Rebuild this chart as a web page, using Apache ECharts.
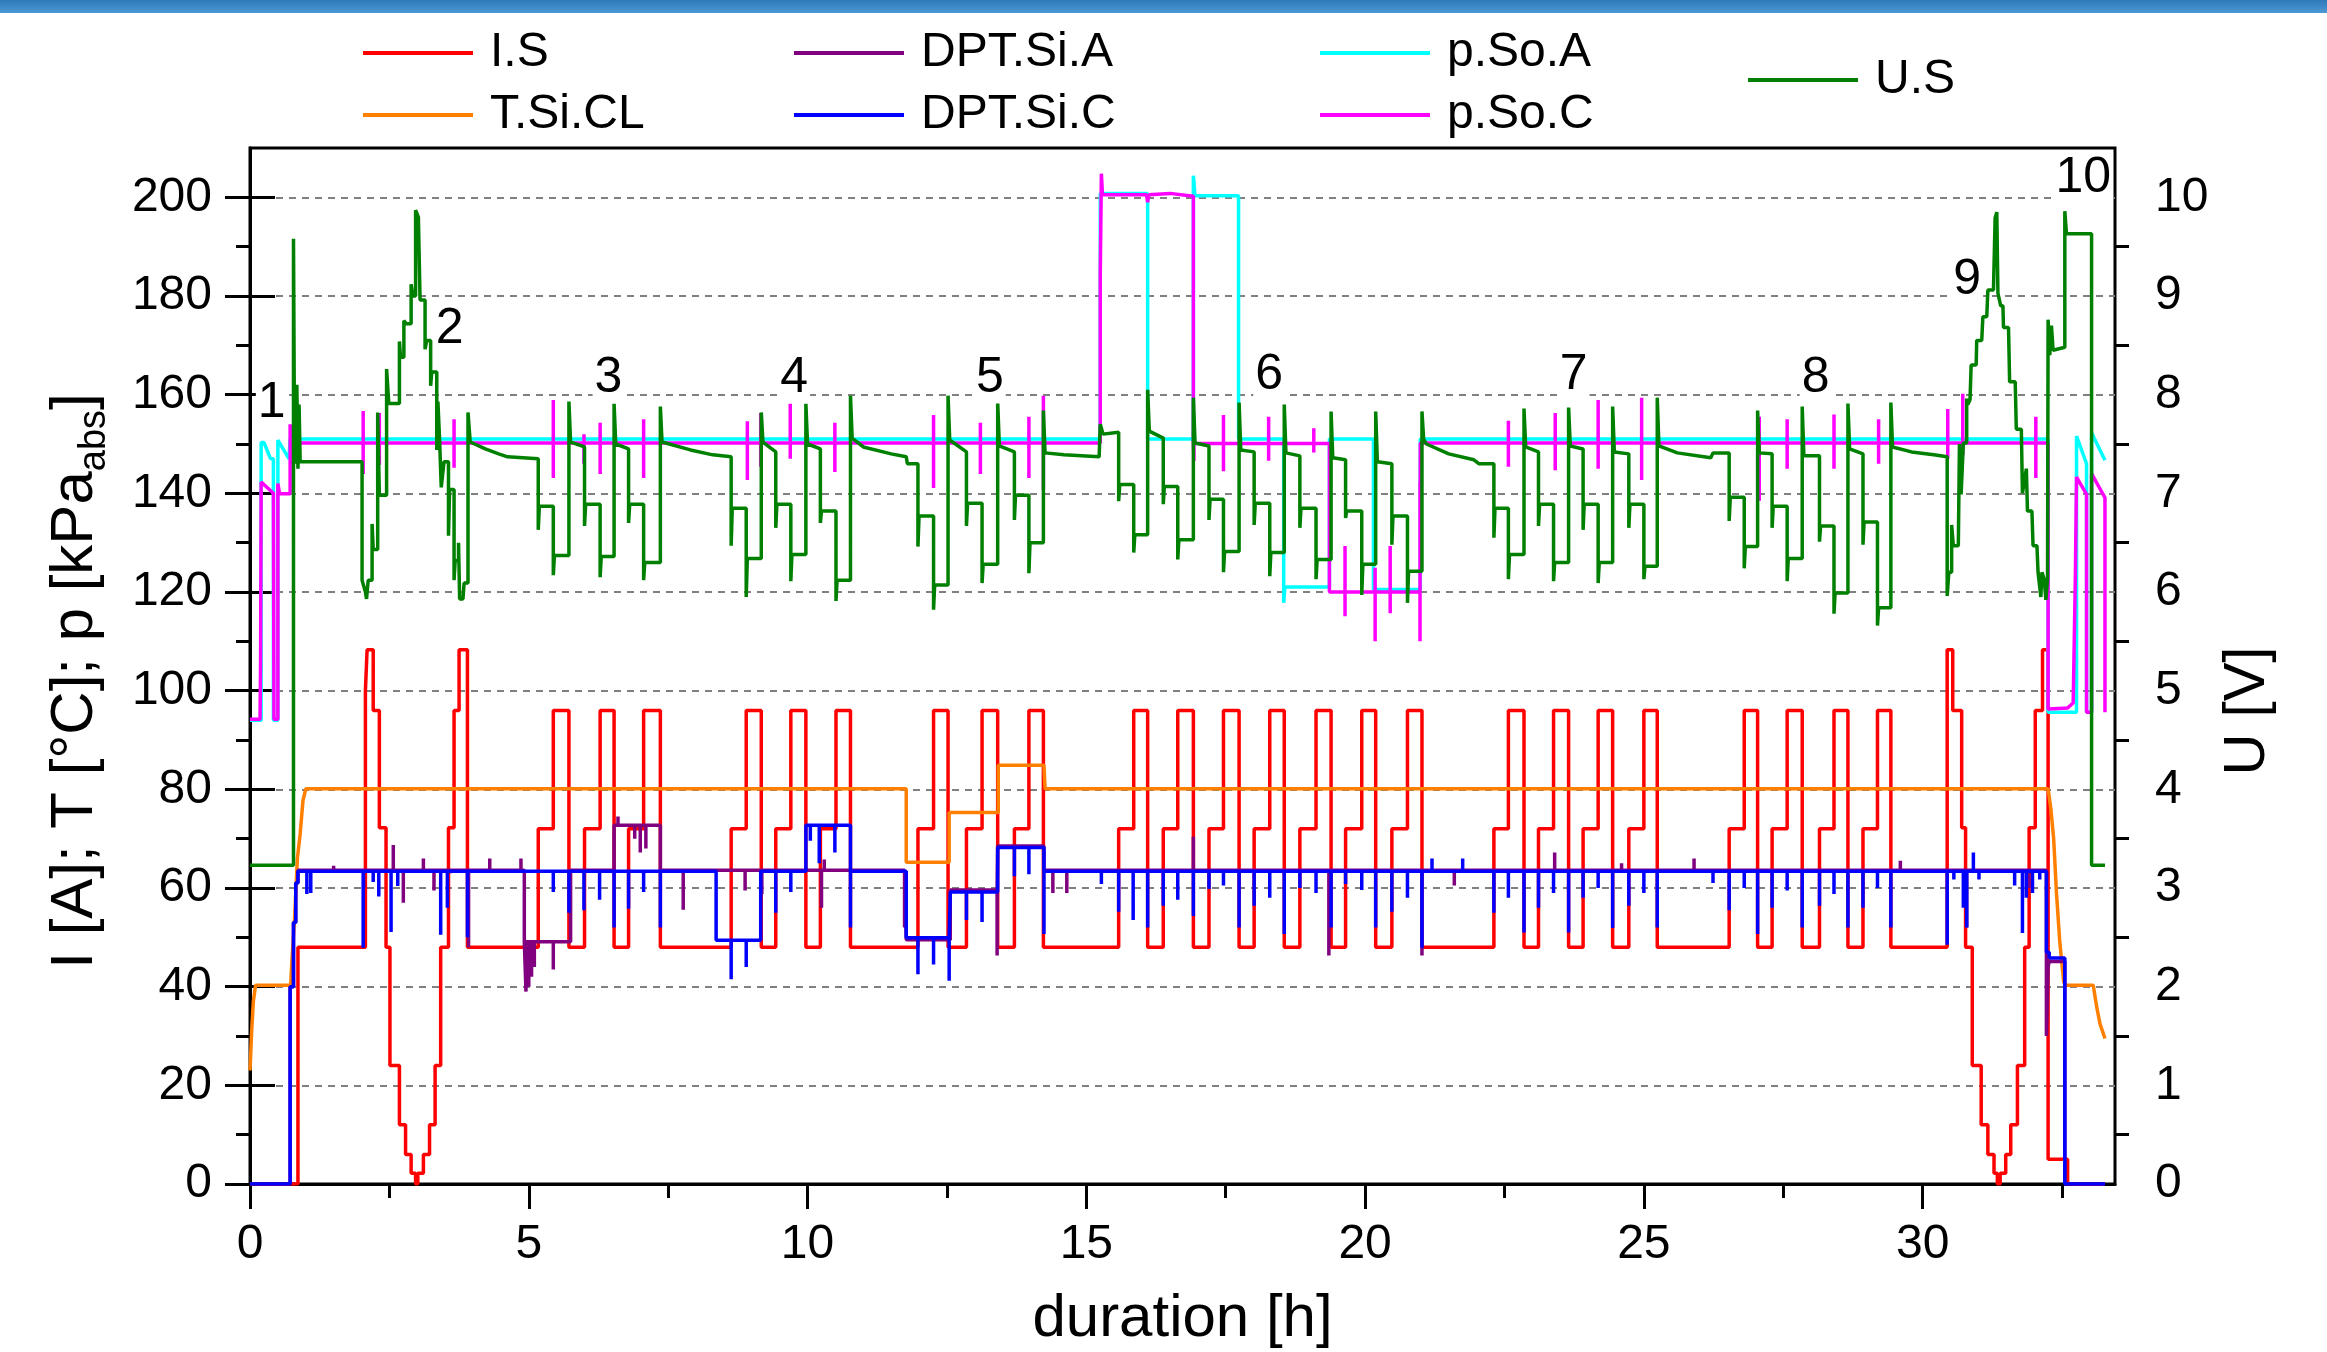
<!DOCTYPE html>
<html>
<head>
<meta charset="utf-8">
<title>Stack test run</title>
<script src="https://cdn.jsdelivr.net/npm/echarts@6.0.0/dist/echarts.min.js"></script>
<style>
  html, body { margin: 0; padding: 0; background: #fff; }
  #chart { width: 2327px; height: 1352px; }
</style>
</head>
<body>
<div id="chart"></div>
<script>
// axis ticks
var xTicks = [0, 5, 10, 15, 20, 25, 30];
var xMinorTicks = [2.5, 7.5, 12.5, 17.5, 22.5, 27.5, 32.5];
var yTicks = [0, 20, 40, 60, 80, 100, 120, 140, 160, 180, 200];
var yMinorTicks = [10, 30, 50, 70, 90, 110, 130, 150, 170, 190];
var uTicks = [0, 1, 2, 3, 4, 5, 6, 7, 8, 9, 10];
var uMinorTicks = [0.5, 1.5, 2.5, 3.5, 4.5, 5.5, 6.5, 7.5, 8.5, 9.5];

// load pulses [h]: current up to first step, up to second step, back to base
var pulseUp   = [5.17, 6.00, 6.79, 8.63, 9.43, 10.23, 11.98, 12.85, 13.71, 15.58, 16.38, 17.20, 18.01, 18.83, 19.65, 20.48, 22.31, 23.11, 23.91, 24.73, 26.53, 27.30, 28.15, 28.93];
var pulseHigh = [5.44, 6.28, 7.06, 8.90, 9.70, 10.51, 12.26, 13.13, 13.97, 15.85, 16.64, 17.46, 18.29, 19.12, 19.94, 20.76, 22.57, 23.38, 24.18, 25.00, 26.80, 27.57, 28.41, 29.19];
var pulseDown = [5.72, 6.53, 7.36, 9.17, 9.97, 10.77, 12.52, 13.41, 14.23, 16.10, 16.92, 17.74, 18.55, 19.39, 20.19, 21.02, 22.85, 23.65, 24.44, 25.24, 27.04, 27.84, 28.66, 29.43];

// I.S [A]
var iLevels = [48, 72, 96]; // base, first step, second step
var iStepT = [0, 0.86, 2.07, 2.10, 2.21, 2.32, 2.44, 2.51, 2.68, 2.79, 2.89, 2.97, 3.01, 3.11, 3.22, 3.32, 3.42, 3.56, 3.66, 3.75, 3.90,
              30.44, 30.54, 30.70, 30.77, 30.89, 31.05, 31.17, 31.28, 31.34, 31.39, 31.49, 31.58, 31.70, 31.83, 31.91, 32.02, 32.15, 32.25, 32.60, 33.27];
var iStepV = [0, 48, 100, 108.3, 96, 72.2, 48, 24, 12, 6, 2.2, 0, 2.2, 6, 12, 24, 48, 72.2, 96, 108.3, 48,
              108.3, 96, 72.2, 48, 24, 12, 6, 2.2, 0, 2.2, 6, 12, 24, 48, 72.2, 96, 108.3, 5, 0, 0];

// T.Si.CL [°C]
var tT = [0, 0.03, 0.06, 0.1, 0.73, 0.75, 0.8, 0.85, 0.9, 0.95, 1.0, 11.77, 11.77, 12.54, 12.54, 13.42, 13.42, 14.24, 14.26,
          32.25, 32.3, 32.35, 32.4, 32.46, 32.53, 32.56, 33.06, 33.12, 33.18, 33.27];
var tV = [23, 31, 37, 40.3, 40.3, 45, 54, 66, 71, 77.7, 80.1, 80.1, 65.2, 65.2, 75.3, 75.3, 84.9, 84.9, 80.1,
          80.1, 76, 70, 59, 49, 41, 40.3, 40.3, 36, 32.5, 29.5];

// DPT.Si.A [kPa], steps + spikes
var aStepT = [0, 0.72, 0.78, 0.82, 0.86, 4.92, 5.75, 6.53, 7.36, 11.77, 12.56, 13.41, 14.24, 32.22, 32.25, 32.27, 32.55, 33.27];
var aStepV = [0, 40, 53, 61, 63.6, 49.1, 63.6, 72.7, 63.6, 49.5, 59.6, 68.5, 63.6, 30, 44, 45.1, 0, 0];
var aSpikeT = [1.5, 2.04, 2.57, 2.75, 3.11, 3.3, 3.6, 3.92, 4.3, 4.86, 4.95, 5.0, 5.05, 5.1, 5.44, 6.6, 6.9, 7.0, 7.1, 7.77,
               8.88, 9.18, 10.25, 10.3, 11.74, 13.4, 14.4, 14.65, 16.92, 19.35, 21.02, 21.6, 23.4, 24.6, 25.9, 29.6, 30.79, 31.9];
var aSpikeV = [64.5, 60, 68.7, 57, 66, 59.5, 63, 48, 66, 66, 39, 40, 42, 44, 43.5, 74.5, 70, 67.2, 68, 55.6,
               59.5, 58.8, 56, 65.8, 52, 46.3, 59, 59, 70.4, 46.3, 46.3, 60.5, 67.2, 65, 66, 65.5, 52, 60];

// DPT.Si.C [kPa], steps + spikes
var cStepT = [0, 0.72, 0.78, 0.82, 0.86, 8.36, 9.16, 9.97, 10.77, 11.77, 12.56, 13.41, 14.24, 32.22, 32.27, 32.55, 33.27];
var cStepV = [0, 40, 53, 61, 63.4, 49.4, 63.4, 72.7, 63.4, 49.9, 59.2, 68.2, 63.4, 47, 45.8, 0, 0];
var cSpikeT = [1.02, 1.09, 2.03, 2.21, 2.31, 2.53, 2.65, 3.42, 3.54, 3.90,
               5.44, 5.72, 5.99, 6.27, 6.53, 6.79, 7.06, 7.36,
               8.63, 8.90, 9.43, 9.70, 10.05, 10.21, 10.49, 10.77,
               11.98, 12.26, 12.54, 12.85, 13.13, 13.71, 13.97, 14.24,
               15.27, 15.58, 15.84, 16.1, 16.38, 16.64, 16.92, 17.2, 17.46, 17.74, 18.01, 18.29, 18.55, 18.83, 19.12, 19.39,
               19.65, 19.94, 20.19, 20.48, 20.76, 21.02, 21.2, 21.75,
               22.31, 22.57, 22.85, 23.11, 23.38, 23.65, 23.91, 24.18, 24.44, 24.73, 25.0, 25.24,
               26.24, 26.53, 26.8, 27.04, 27.3, 27.57, 27.84, 28.15, 28.41, 28.66, 28.93, 29.19, 29.43,
               30.44, 30.56, 30.73, 30.79, 30.91, 31.01, 31.65, 31.79, 31.86, 31.97, 32.1];
var cSpikeV = [58.8, 59, 47.9, 61.2, 58.3, 51.1, 60.4, 50.5, 56, 50,
               59.2, 55, 55.5, 57.6, 52, 55.8, 59.2, 52,
               41.5, 44, 55, 59.2, 69.6, 65, 67.2, 52,
               42.5, 44.5, 41.2, 53.5, 53.1, 62.4, 62.8, 50.7,
               60.8, 55.2, 53.5, 52, 56.4, 57.6, 54.3, 59.8, 60.5, 52, 56.4, 58, 50.7, 60, 59, 52,
               60.8, 59.6, 52, 55.2, 58, 47.9, 66, 66,
               55, 58, 51, 56, 59, 51, 58, 60, 51.9, 56.4, 59, 52,
               61, 55.5, 60, 50.7, 56, 59.5, 52, 56.4, 58.8, 52, 56, 60, 52,
               48.5, 61.7, 56, 52, 67.2, 61.7, 60.5, 50.9, 58, 59, 61.7];

// p.So.A [kPa_abs]
var pAT = [0, 0.2, 0.2, 0.25, 0.37, 0.42, 0.42, 0.5, 0.5, 0.53, 0.7, 0.72, 0.72, 15.25, 15.25, 16.1, 16.1, 16.92, 16.92, 16.95,
           17.73, 17.73, 18.54, 18.54, 18.56, 19.36, 19.36, 20.15, 20.15, 20.99, 20.99, 32.25, 32.25, 32.76, 32.76, 32.94, 32.94,
           33.03, 33.03, 33.27];
var pAV = [94, 94, 150.3, 150.3, 147, 147, 94, 94, 150.8, 150.8, 147, 147, 151, 151, 200.8, 200.8, 151, 151, 204.4, 200.3,
           200.3, 151, 151, 117.8, 121, 121, 151, 151, 120.5, 120.5, 151, 151, 95.6, 95.6, 151.6, 146, 95.6,
           95.6, 152.3, 146.7];

// p.So.C [kPa_abs], line + spikes (high, low)
var pCT = [0, 0.18, 0.19, 0.2, 0.42, 0.43, 0.43, 0.5, 0.5, 0.53, 0.72, 0.72, 0.74, 0.76, 15.25, 15.25, 15.27, 15.29, 16.08, 16.1,
           16.12, 16.5, 16.92, 16.92, 19.36, 19.36, 20.99, 20.99, 32.25, 32.25, 32.6, 32.7, 32.72, 32.74, 32.76, 32.94, 32.94,
           33.03, 33.03, 33.27, 33.27];
var pCV = [94.2, 94.2, 106, 142.3, 140, 140, 94.2, 94.2, 142, 139.9, 139.9, 154, 146, 150.2, 150.2, 184.6, 204.8, 200.5, 200.5, 199,
           200.5, 200.8, 200.2, 150.1, 150.1, 120, 120, 150.2, 150.2, 96.3, 96.5, 97.5, 97.8, 124, 143.3, 139.8, 95.6,
           95.6, 144, 139.1, 95.6];
var pCSpikeT = [2.03, 2.32, 3.66, 5.44, 5.99, 6.28, 7.06, 8.92, 9.16, 9.69, 10.49, 12.26, 13.1, 13.97, 14.23, 16.93, 17.46, 18.27,
                19.08, 19.64, 20.18, 20.45, 20.985, 22.57, 23.41, 24.18, 24.96, 27.07, 27.57, 28.41, 29.21, 30.45, 30.72, 32.03];
var pCSpikeHi = [156.7, 156.3, 155, 158.9, 152, 154.3, 155, 154.6, 156.3, 158.2, 154.3, 155.9, 154.3, 155.5, 159.8, 150.1, 155.9, 155.5,
                 153.2, 129.3, 124.9, 129.3, 142.4, 154.7, 156.3, 158.9, 159.4, 155.5, 155, 156, 155, 157.1, 160.2, 155.5];
var pCSpikeLo = [143.9, 145.8, 145.2, 143.1, 146, 143.9, 143.1, 142.7, 145.4, 147, 144.3, 141.1, 143.9, 143.1, 140.8, 146.6, 144.5, 146.6,
                 148.3, 115.1, 110, 115.7, 110, 145.4, 144.7, 145, 142.7, 138.5, 145, 145, 146, 147, 147.7, 143.1];

// U.S [V] outside the pulses
var uStartT = [0, 0.78, 0.78, 0.80, 0.83, 0.84, 0.86, 0.88, 0.90, 2.01];
var uStartV = [3.23, 3.23, 9.58, 7.3, 7.3, 8.1, 7.25, 7.9, 7.32, 7.32];
var uPeak2T = [2.01, 2.07, 2.09, 2.12, 2.19, 2.19, 2.21, 2.29, 2.29, 2.32, 2.45, 2.45, 2.49, 2.68, 2.68, 2.70, 2.76, 2.76, 2.80, 2.89,
               2.89, 2.92, 2.97, 2.97, 3.02, 3.05, 3.14, 3.14, 3.17, 3.24, 3.24, 3.26, 3.35, 3.35, 3.37, 3.40, 3.43, 3.48, 3.56, 3.56,
               3.58, 3.66, 3.66, 3.68, 3.74, 3.74, 3.76, 3.82, 3.84, 3.91, 3.91, 3.95, 4.22, 4.46, 4.62];
var uPeak2V = [6.12, 6.0, 5.93, 6.12, 6.12, 6.69, 6.43, 6.43, 7.82, 6.98, 6.98, 8.26, 7.91, 7.91, 8.54, 8.38, 8.38, 8.75, 8.72, 8.72,
               9.12, 9.0, 9.0, 9.87, 9.8, 8.96, 8.96, 8.46, 8.55, 8.55, 8.09, 8.23, 8.23, 7.44, 7.93, 7.55, 7.06, 7.32, 7.32, 6.57,
               7.04, 7.04, 6.12, 6.32, 6.32, 6.5, 5.93, 5.93, 6.09, 6.09, 7.82, 7.52, 7.45, 7.40, 7.37];
var uRelaxT = [7.9, 8.3, 11.0, 11.5, 11.77, 11.79, 14.6, 15.23, 15.25, 15.3, 21.1, 21.5, 21.95, 22.04, 25.6, 26.2, 26.24, 29.8, 30.2];
var uRelaxV = [7.44, 7.39, 7.47, 7.40, 7.37, 7.30, 7.39, 7.37, 7.70, 7.60, 7.50, 7.40, 7.34, 7.30, 7.41, 7.36, 7.41, 7.42, 7.39];
var uPeak9T = [30.44, 30.44, 30.47, 30.52, 30.52, 30.55, 30.64, 30.66, 30.69, 30.72, 30.73, 30.79, 30.79, 30.81, 30.85, 30.87, 30.96, 30.97, 31.06, 31.08,
               31.15, 31.17, 31.27, 31.30, 31.33, 31.35, 31.40, 31.44, 31.45, 31.54, 31.56, 31.66, 31.68, 31.77, 31.79, 31.86, 31.88, 31.96, 31.98, 32.05,
               32.07, 32.12, 32.14, 32.18, 32.21, 32.24, 32.25, 32.28, 32.31, 32.34, 32.55, 32.55, 32.58, 33.03, 33.03, 33.27];
var uPeak9V = [7.37, 5.96, 6.20, 6.20, 6.68, 6.47, 6.47, 7.50, 6.99, 6.99, 7.51, 7.51, 7.96, 7.90, 7.95, 8.30, 8.30, 8.55, 8.55, 8.79,
               8.79, 9.06, 9.06, 9.79, 9.85, 9.03, 8.90, 8.90, 8.68, 8.68, 8.13, 8.13, 7.65, 7.65, 7.00, 7.25, 6.82, 6.82, 6.47, 6.47,
               6.20, 5.95, 6.20, 6.13, 5.92, 6.13, 8.76, 8.40, 8.70, 8.45, 8.48, 9.86, 9.63, 9.63, 3.23, 3.23];

// U.S [V] per pulse
var uBefore  = [7.35, 7.47, 7.45, 7.37, 7.42, 7.45, 7.30, 7.42, 7.42, 7.62, 7.56, 7.48, 7.42, 7.38, 7.34, 7.30, 7.30, 7.42, 7.45, 7.40, 7.41, 7.40, 7.38, 7.40];
var uDipUp   = [6.63, 6.67, 6.70, 6.47, 6.65, 6.70, 6.46, 6.67, 6.73, 6.92, 6.89, 6.73, 6.68, 6.65, 6.75, 6.48, 6.55, 6.67, 6.63, 6.65, 6.72, 6.65, 6.51, 6.48];
var uUp      = [6.87, 6.89, 6.89, 6.85, 6.89, 6.82, 6.77, 6.90, 6.98, 7.09, 7.07, 6.94, 6.90, 6.85, 6.82, 6.77, 6.85, 6.89, 6.89, 6.89, 6.96, 6.87, 6.67, 6.71];
var uDipHigh = [6.17, 6.15, 6.12, 5.95, 6.11, 5.91, 5.82, 6.09, 6.19, 6.40, 6.33, 6.20, 6.16, 6.13, 5.97, 5.89, 6.13, 6.11, 6.09, 6.13, 6.24, 6.11, 5.78, 5.66];
var uHigh    = [6.37, 6.36, 6.30, 6.34, 6.38, 6.12, 6.07, 6.28, 6.50, 6.58, 6.53, 6.41, 6.40, 6.33, 6.28, 6.21, 6.38, 6.30, 6.30, 6.26, 6.46, 6.34, 5.99, 5.84];
var uPeak    = [7.93, 7.91, 7.88, 7.82, 7.91, 7.99, 7.99, 7.93, 7.84, 8.05, 7.97, 7.92, 7.90, 7.83, 7.83, 7.83, 7.86, 7.87, 7.88, 7.97, 7.84, 7.88, 7.91, 7.92];
var uAfter   = [7.52, 7.50, 7.52, 7.52, 7.50, 7.56, 7.54, 7.48, 7.41, 7.63, 7.51, 7.44, 7.41, 7.36, 7.32, 7.55, 7.47, 7.48, 7.42, 7.48, 7.41, 7.38, 7.45, 7.47];

// phase numbers
var annT = [0.39, 3.58, 6.43, 9.76, 13.27, 18.28, 23.74, 28.08, 30.8, 32.88];
var annY = [158.2, 173.2, 163.3, 163.3, 163.3, 163.9, 163.9, 163.3, 183.2, 203.8];
var annText = ['1', '2', '3', '4', '5', '6', '7', '8', '9', '10'];

var FONT = '"Liberation Sans", Arial, sans-serif';

function zipPoints(T, V) {
    return T.map(function (t, i) { return [t, V[i]]; });
}

// held values -> vertices with vertical jumps
function stepPoints(T, V) {
    var pts = [];
    for (var i = 0; i < T.length; i++) {
        if (i > 0) pts.push([T[i], V[i - 1]]);
        pts.push([T[i], V[i]]);
    }
    return pts;
}

// short vertical spikes on top of a line
function addSpikes(pts, sT, sA, sB) {
    sT.forEach(function (t, k) {
        var i = 0;
        while (i < pts.length && pts[i][0] <= t) i++;
        var p0 = pts[i - 1], p1 = pts[i] || p0;
        var base = p1[0] === p0[0] ? p0[1] : p0[1] + (p1[1] - p0[1]) * (t - p0[0]) / (p1[0] - p0[0]);
        var ins = [[t, base], [t, sA[k]]];
        if (sB) ins.push([t, sB[k]]);
        ins.push([t, base]);
        pts.splice.apply(pts, [i, 0].concat(ins));
    });
    return pts;
}

// I.S
var iEvents = zipPoints(iStepT, iStepV);
pulseUp.forEach(function (t, k) {
    iEvents.push([t, iLevels[1]], [pulseHigh[k], iLevels[2]], [pulseDown[k], iLevels[0]]);
});
iEvents.sort(function (a, b) { return a[0] - b[0]; });
var iData = stepPoints(iEvents.map(function (e) { return e[0]; }), iEvents.map(function (e) { return e[1]; }));

// U.S
var uData = [].concat(zipPoints(uStartT, uStartV), zipPoints(uPeak2T, uPeak2V), zipPoints(uRelaxT, uRelaxV), zipPoints(uPeak9T, uPeak9V));
pulseUp.forEach(function (t0, k) {
    var t1 = pulseHigh[k], t2 = pulseDown[k];
    uData.push([t0, uBefore[k]], [t0, uDipUp[k]], [t0 + 0.02, uUp[k]],
               [t1, uUp[k]], [t1, uDipHigh[k]], [t1 + 0.02, uHigh[k]],
               [t2, uHigh[k]], [t2, uPeak[k]], [t2 + 0.03, uAfter[k]]);
});
uData.sort(function (a, b) { return a[0] - b[0]; });

var tData = zipPoints(tT, tV);
var aData = addSpikes(stepPoints(aStepT, aStepV), aSpikeT, aSpikeV);
var cData = addSpikes(stepPoints(cStepT, cStepV), cSpikeT, cSpikeV);
var pAData = zipPoints(pAT, pAV);
var pCData = addSpikes(zipPoints(pCT, pCV), pCSpikeT, pCSpikeHi, pCSpikeLo);

function lineSeries(name, color, data, yIdx) {
    return {
        name: name,
        type: 'line',
        data: data,
        yAxisIndex: yIdx || 0,
        symbol: 'none',
        showSymbol: false,
        silent: true,
        color: color,
        lineStyle: { color: color, width: 3.5 },
        itemStyle: { color: color }
    };
}

var legendCommon = {
    orient: 'vertical',
    icon: 'rect',
    itemWidth: 110,
    itemHeight: 4,
    itemGap: 14,
    padding: 0,
    selectedMode: false,
    textStyle: { fontSize: 48, fontFamily: FONT, color: '#000', padding: [0, 0, 0, 12] }
};

var axisBlack = { color: '#000', width: 3 };

var chart = echarts.init(document.getElementById('chart'));

var option = {
    animation: false,
    backgroundColor: '#fff',
    graphic: [{
        type: 'rect',
        left: 0,
        top: 0,
        shape: { width: 2327, height: 13 },
        style: {
            fill: new echarts.graphic.LinearGradient(0, 0, 0, 1, [
                { offset: 0, color: '#2e78b7' },
                { offset: 1, color: '#4c99d5' }
            ])
        }
    }],
    legend: [
        Object.assign({ data: ['I.S', 'T.Si.CL'], left: 363, top: 29 }, legendCommon),
        Object.assign({ data: ['DPT.Si.A', 'DPT.Si.C'], left: 794, top: 29 }, legendCommon),
        Object.assign({ data: ['p.So.A', 'p.So.C'], left: 1320, top: 29 }, legendCommon),
        Object.assign({ data: ['U.S'], left: 1748, top: 56 }, legendCommon)
    ],
    grid: {
        left: 250,
        right: 212,
        top: 148,
        bottom: 168,
        containLabel: false,
        outerBoundsMode: 'none',
        show: true,
        borderColor: '#000',
        borderWidth: 3
    },
    xAxis: [{
        type: 'value',
        position: 'bottom',
        min: 0,
        max: 33.45,
        interval: 5,
        axisLine: { show: true, lineStyle: axisBlack },
        axisTick: { show: true, customValues: xTicks, length: 25, lineStyle: axisBlack },
        minorTick: { show: false },
        axisLabel: { customValues: xTicks, fontSize: 48, fontFamily: FONT, color: '#000', margin: 37 },
        splitLine: { show: false },
        name: 'duration [h]',
        nameLocation: 'middle',
        nameGap: 105,
        nameTextStyle: { fontSize: 60, fontFamily: FONT, color: '#000' }
    }, {
        type: 'value',
        position: 'bottom',
        min: 0,
        max: 33.45,
        axisLine: { show: false },
        axisTick: { show: true, customValues: xMinorTicks, length: 14, lineStyle: axisBlack },
        axisLabel: { show: false },
        splitLine: { show: false }
    }],
    yAxis: [{
        type: 'value',
        position: 'left',
        min: 0,
        max: 210,
        interval: 20,
        axisLine: { show: true, lineStyle: axisBlack },
        axisTick: { show: true, customValues: yTicks, length: 25, lineStyle: axisBlack },
        axisLabel: { customValues: yTicks, fontSize: 48, fontFamily: FONT, color: '#000', margin: 38 },
        splitLine: { show: true, lineStyle: { color: '#808080', width: 2, type: [7, 6] } },
        name: '{a|I [A]; T [°C]; p [kPa}{b|abs}{a|]}',
        nameLocation: 'middle',
        nameRotate: 90,
        nameGap: 136,
        nameTextStyle: {
            color: '#000',
            padding: [0, 30, 0, 0],
            rich: {
                a: { fontSize: 60, fontFamily: FONT, color: '#000' },
                b: { fontSize: 38, fontFamily: FONT, color: '#000', padding: [40, 0, 0, 0] }
            }
        }
    }, {
        type: 'value',
        position: 'right',
        min: 0,
        max: 10.5,
        interval: 1,
        axisLine: { show: true, lineStyle: axisBlack },
        axisTick: { show: true, customValues: uTicks, length: 25, lineStyle: axisBlack },
        axisLabel: { customValues: uTicks, fontSize: 48, fontFamily: FONT, color: '#000', margin: 40 },
        splitLine: { show: false },
        name: 'U [V]',
        nameLocation: 'middle',
        nameRotate: 90,
        nameGap: 95,
        nameTextStyle: { fontSize: 58, fontFamily: FONT, color: '#000', padding: [0, 90, 0, 0] }
    }, {
        type: 'value',
        position: 'left',
        min: 0,
        max: 210,
        axisLine: { show: false },
        axisTick: { show: true, customValues: yMinorTicks, length: 14, lineStyle: axisBlack },
        axisLabel: { show: false },
        splitLine: { show: false }
    }, {
        type: 'value',
        position: 'right',
        min: 0,
        max: 10.5,
        axisLine: { show: false },
        axisTick: { show: true, customValues: uMinorTicks, length: 14, lineStyle: axisBlack },
        axisLabel: { show: false },
        splitLine: { show: false }
    }],
    series: [
        lineSeries('I.S', '#ff0000', iData),
        lineSeries('T.Si.CL', '#ff8000', tData),
        lineSeries('DPT.Si.A', '#800080', aData),
        lineSeries('DPT.Si.C', '#0000ff', cData),
        lineSeries('p.So.A', '#00ffff', pAData),
        lineSeries('p.So.C', '#ff00ff', pCData),
        lineSeries('U.S', '#008000', uData, 1),
        {
            name: 'phase',
            type: 'scatter',
            silent: true,
            symbolSize: 1,
            itemStyle: { color: '#fff', opacity: 1 },
            data: annT.map(function (t, i) { return { value: [t, annY[i]], name: annText[i] }; }),
            label: {
                show: true,
                position: 'inside',
                formatter: '{b}',
                fontSize: 50,
                fontFamily: FONT,
                color: '#000',
                opacity: 1,
                textBorderWidth: 0,
                backgroundColor: '#fff',
                padding: [0, 2]
            },
            z: 10
        }
    ]
};

option && chart.setOption(option);
</script>
</body>
</html>
